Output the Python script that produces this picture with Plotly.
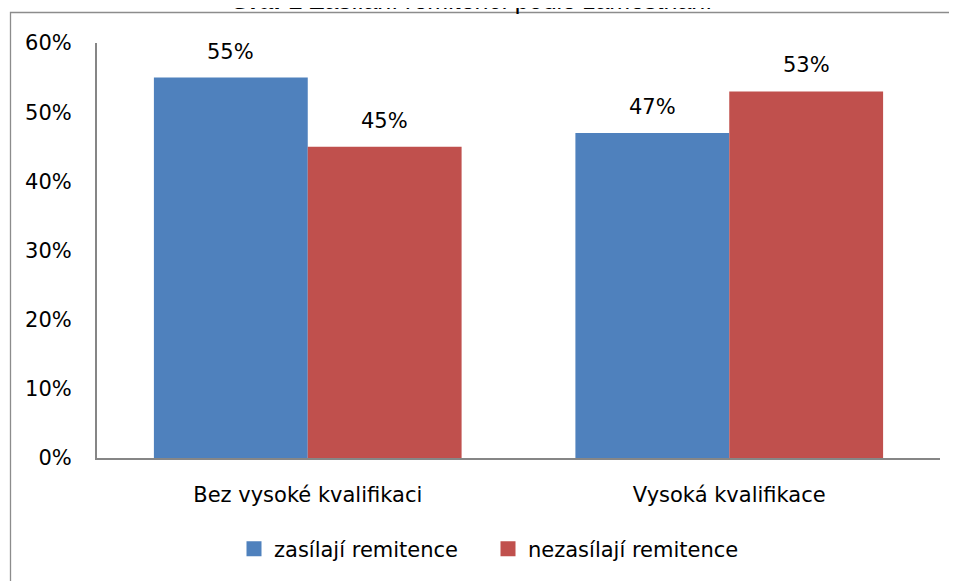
import plotly.graph_objects as go

categories = ["Bez vysoké kvalifikaci", "Vysoká kvalifikace"]
series_names = ["zasílají remitence", "nezasílají remitence"]
zasilaji = [0.55, 0.47]
nezasilaji = [0.45, 0.53]
series_values = [zasilaji, nezasilaji]
colors = ["#4F81BD", "#C0504D"]
tick_vals = [0, 0.1, 0.2, 0.3, 0.4, 0.5, 0.6]
tick_text = ["0%", "10%", "20%", "30%", "40%", "50%", "60%"]
title_text = "<b>Graf 1</b> Zasílání remitencí podle zaměstnání"

W, H = 957, 581
OFF = 8  # page body margin
# target plot area in screen pixels
SX0, SX1, SY0, SY1 = 97, 940, 43, 458
L = SX0 - OFF
T = SY0 - OFF
pw = SX1 - SX0
ph = SY1 - SY0
R = W - L - pw
B = H - T - ph

FONT = "DejaVu Sans"
FS = 21

def px_x(p):
    return (p - OFF - L) / pw

def px_y(p):
    return 1 - (p - OFF - T) / ph

fig = go.Figure()
for name, vals, col in zip(series_names, series_values, colors):
    fig.add_trace(go.Bar(
        x=categories, y=vals, name=name,
        marker=dict(color=col, line=dict(width=0)),
        showlegend=False,
    ))
for name, col in zip(series_names, colors):
    fig.add_trace(go.Scatter(
        x=[None], y=[None], name=name, mode="markers",
        marker=dict(symbol="square", size=15, color=col),
        showlegend=True,
    ))

annotations = []
offsets = [-0.5, 0.5]
for off, vals in zip(offsets, series_values):
    for i, v in enumerate(vals):
        annotations.append(dict(
            x=i + off * 0.365, y=v, xref="x", yref="y",
            text=f"{round(v*100)}%", showarrow=False,
            yanchor="middle", yshift=26,
            font=dict(family=FONT, size=FS, color="#000000"),
        ))

annotations.append(dict(
    x=px_x(471), y=px_y(16), xref="paper", yref="paper",
    text=title_text, showarrow=False, xanchor="center", yanchor="bottom",
    font=dict(family="Liberation Sans", size=25, color="#000000"),
))

fig.update_layout(
    width=W, height=H,
    margin=dict(l=L, r=R, t=T, b=B, autoexpand=False),
    paper_bgcolor="white", plot_bgcolor="white",
    barmode="group", bargap=0.27, bargroupgap=0,
    showlegend=True,
    legend=dict(
        orientation="h", x=px_x(234), xanchor="left",
        y=px_y(549), yanchor="middle",
        font=dict(family=FONT, size=FS, color="#000000"),
        itemwidth=30, tracegroupgap=0, itemsizing="trace",
        entrywidth=209,
    ),
    annotations=annotations,
    shapes=[dict(
        type="rect", xref="paper", yref="paper",
        x0=px_x(10.5), x1=px_x(975), y0=px_y(620), y1=px_y(12.5),
        line=dict(color="#8C8C8C", width=1.3), fillcolor="rgba(0,0,0,0)",
        layer="below",
    )],
    xaxis=dict(
        showline=True, linecolor="#868686", linewidth=2,
        ticks="", showgrid=False, zeroline=False,
        tickfont=dict(family=FONT, size=FS, color="#000000"),
        ticklabelstandoff=17,
    ),
    yaxis=dict(
        range=[0, 0.6], tickvals=tick_vals, ticktext=tick_text,
        showline=True, linecolor="#868686", linewidth=2,
        ticks="", showgrid=False, zeroline=False,
        tickfont=dict(family=FONT, size=FS, color="#000000"),
        ticklabelstandoff=19,
    ),
)

fig.write_html("out.html")
